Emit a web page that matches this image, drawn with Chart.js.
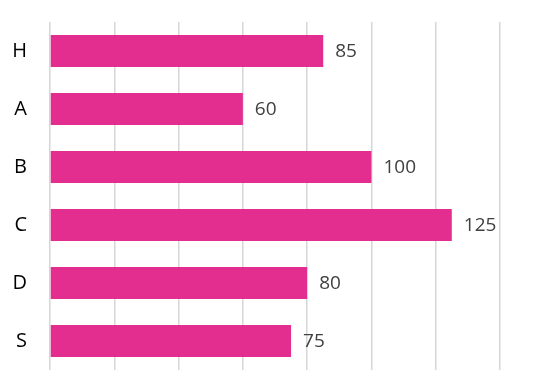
<!DOCTYPE html>
<html>
<head>
<meta charset="utf-8">
<script src="https://cdn.jsdelivr.net/npm/chart.js@4/dist/chart.umd.min.js"></script>
<style>
html,body{margin:0;padding:0;background:#fff;}
#wrap{width:554px;height:392px;position:relative;}
</style>
</head>
<body>
<div id="wrap"><canvas id="c" width="554" height="392"></canvas></div>
<script>
const categories = ["H", "A", "B", "C", "D", "S"];
const values = [85, 60, 100, 125, 80, 75];
const xMin = 0, xMax = 140, xStep = 20;

const valueLabels = {
  id: 'valueLabels',
  afterDatasetsDraw(chart) {
    const ctx = chart.ctx;
    const meta = chart.getDatasetMeta(0);
    ctx.save();
    ctx.font = '19px "Open Sans"';
    ctx.fillStyle = '#404040';
    ctx.textAlign = 'left';
    ctx.textBaseline = 'middle';
    meta.data.forEach((bar, i) => {
      ctx.fillText(String(values[i]), bar.x + 12, bar.y + 1);
    });
    ctx.restore();
  }
};

new Chart(document.getElementById('c'), {
  type: 'bar',
  data: {
    labels: categories,
    datasets: [{
      data: values,
      backgroundColor: '#e32d8f',
      borderWidth: 0,
      categoryPercentage: 1.0,
      barPercentage: 0.55
    }]
  },
  options: {
    indexAxis: 'y',
    responsive: false,
    animation: false,
    layout: { padding: { top: 22, bottom: 22, right: 54, left: 0 } },
    plugins: { legend: { display: false }, tooltip: { enabled: false } },
    scales: {
      x: {
        min: xMin, max: xMax,
        ticks: { display: false, stepSize: xStep },
        grid: { color: '#d6d6d6', lineWidth: 1.5, drawTicks: false },
        border: { display: false },
        afterFit(scale) { scale.height = 0; scale.paddingLeft = 0; scale.paddingRight = 0; }
      },
      y: {
        grid: { display: false, drawTicks: false },
        border: { display: false },
        ticks: { color: '#000', font: { family: 'Open Sans', size: 20 }, padding: 23 },
        afterFit(scale) { scale.width = 50; scale.paddingTop = 0; scale.paddingBottom = 0; }
      }
    }
  },
  plugins: [valueLabels]
});
</script>
</body>
</html>
